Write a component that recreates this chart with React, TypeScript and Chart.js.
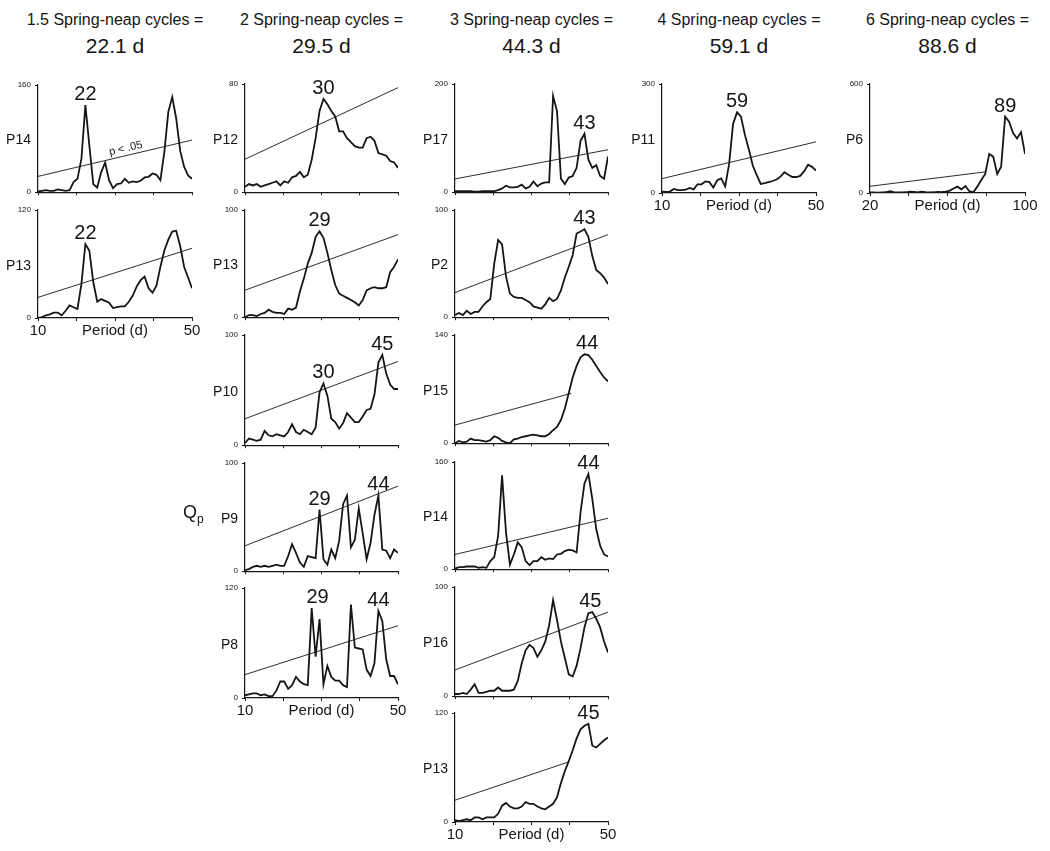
import React, { useEffect, useRef } from "react";
import { Chart, registerables } from "chart.js";

Chart.register(...registerables);

const FONT = '"Liberation Sans", Arial, Helvetica, sans-serif';
const INK = "#151515";

// ---- Text ----
const cycleLabels = [
  "1.5 Spring-neap cycles =",
  "2 Spring-neap cycles =",
  "3 Spring-neap cycles =",
  "4 Spring-neap cycles =",
  "6 Spring-neap cycles =",
];
const periodLabels = ["22.1 d", "29.5 d", "44.3 d", "59.1 d", "88.6 d"];
const xAxisTitle = "Period (d)";
const sigLabel = "p < .05";

// ---- Period ranges (x axis) ----
const rangeShort = [10, 50];
const rangeLong = [20, 100];

// ---- Series values (Qp), sampled evenly across the period range ----
const c1P14 = [1, 2, 3, 2, 2, 4, 3, 2, 3, 15, 20, 50, 130, 70, 12, 7, 30, 44, 18, 6, 12, 13, 20, 14, 16, 15, 17, 22, 23, 28, 26, 18, 60, 120, 142, 110, 62, 38, 25, 20];
const c1P13 = [0, 1, 3, 4, 6, 6, 3, 8, 14, 12, 10, 38, 82, 75, 40, 18, 21, 19, 17, 11, 12, 13, 13, 18, 25, 35, 42, 46, 33, 28, 36, 57, 75, 87, 96, 97, 80, 57, 45, 33];
const c2P12 = [4, 6, 5, 6, 4, 5, 6, 7, 8, 5, 8, 7, 11, 12, 15, 11, 13, 24, 40, 60, 69, 65, 60, 56, 45, 45, 40, 37, 34, 33, 33, 40, 41, 38, 29, 28, 27, 23, 22, 18];
const c2P13 = [0, 2, 2, 1, 3, 4, 7, 5, 4, 4, 3, 8, 7, 9, 24, 36, 50, 60, 75, 80, 74, 60, 44, 30, 22, 20, 18, 16, 14, 11, 16, 25, 27, 28, 27, 27, 28, 42, 47, 54];
const c2P10 = [2, 6, 5, 4, 5, 13, 9, 8, 10, 9, 8, 12, 19, 12, 10, 14, 12, 10, 16, 48, 56, 45, 24, 21, 15, 20, 29, 25, 21, 21, 26, 32, 33, 46, 75, 82, 65, 55, 51, 51];
const c2P9 = [1, 2, 4, 5, 4, 5, 4, 5, 6, 5, 5, 14, 25, 17, 8, 4, 14, 13, 12, 57, 11, 6, 20, 12, 28, 62, 70, 22, 29, 58, 35, 11, 26, 52, 70, 20, 19, 12, 20, 17];
const c2P8 = [3, 4, 5, 5, 3, 4, 2, 2, 8, 18, 18, 10, 14, 23, 18, 15, 14, 98, 45, 86, 15, 35, 23, 19, 19, 14, 12, 102, 55, 54, 53, 31, 24, 38, 95, 84, 42, 24, 24, 15];
const c3P17 = [2, 2, 2, 2, 2, 1, 1, 2, 2, 2, 2, 4, 7, 12, 9, 9, 10, 14, 7, 10, 20, 11, 16, 18, 18, 178, 150, 25, 15, 27, 30, 45, 95, 108, 60, 45, 50, 30, 25, 66];
const c3P2 = [2, 4, 2, 6, 3, 5, 5, 10, 14, 17, 50, 72, 68, 38, 22, 19, 18, 18, 16, 14, 10, 9, 8, 12, 18, 15, 17, 25, 37, 47, 58, 78, 80, 82, 75, 57, 44, 41, 37, 31];
const c3P15 = [0, 3, 1, 2, 6, 4, 4, 3, 2, 4, 9, 7, 3, 1, 0, 5, 6, 8, 9, 10, 11, 10, 9, 9, 12, 17, 21, 30, 45, 65, 85, 100, 111, 115, 114, 108, 100, 92, 85, 80];
const c3P14 = [1, 3, 3, 4, 4, 4, 2, 3, 2, 12, 18, 50, 140, 55, 7, 22, 40, 33, 12, 6, 12, 12, 18, 14, 16, 15, 22, 23, 27, 29, 28, 25, 85, 128, 142, 105, 60, 35, 22, 19];
const c3P16 = [2, 2, 3, 2, 6, 11, 3, 3, 4, 5, 5, 8, 5, 5, 5, 6, 14, 30, 42, 47, 44, 36, 42, 50, 65, 88, 70, 50, 35, 20, 18, 28, 44, 63, 76, 77, 71, 63, 50, 40];
const c3P13 = [2, 1, 2, 3, 2, 5, 5, 3, 5, 5, 5, 9, 18, 21, 17, 15, 15, 17, 22, 20, 20, 17, 15, 14, 17, 20, 27, 43, 56, 67, 79, 92, 102, 106, 108, 84, 82, 86, 90, 93];
const c4P11 = [4, 3, 4, 11, 8, 8, 9, 14, 10, 24, 24, 32, 30, 15, 35, 40, 18, 80, 190, 222, 210, 160, 120, 75, 49, 25, 27, 30, 33, 37, 45, 57, 50, 44, 44, 47, 60, 78, 72, 62];
const c5P6 = [3, 3, 2, 3, 4, 10, 5, 3, 3, 4, 8, 6, 4, 8, 5, 3, 4, 6, 5, 8, 12, 25, 35, 20, 38, 10, 4, 35, 72, 105, 215, 200, 105, 145, 420, 392, 330, 300, 335, 215];

// ---- Significance (p < .05) lines: [value at start, value at end, fraction of range where it ends] ----
const thrC1P14 = [23.6, 77.8];
const thrC1P13 = [22.9, 77.5];
const thrC2P12 = [24.4, 77.3];
const thrC2P13 = [25.2, 77];
const thrC2P10 = [24, 76];
const thrC2P9 = [23.5, 78.6];
const thrC2P8 = [25.5, 78.9];
const thrC3P17 = [24.5, 78.5];
const thrC3P2 = [23, 77];
const thrC3P15 = [23.5, 64.5, 0.76];
const thrC3P14 = [22, 76];
const thrC3P16 = [24, 77];
const thrC3P13 = [24, 66, 0.74];
const thrC4P11 = [39.6, 140.8];
const thrC5P6 = [37, 116, 0.742];

// ---- Layout ----
const colAxis = [38, 245, 455, 662, 870];
const colRight = [192, 398, 608, 816, 1025];

type Peak = { text: string; idx: number; xIdx?: number };
type PanelSpec = {
  key: string;
  name: string;
  values: number[];
  yMax: number;
  range: number[];
  thr: number[];
  peaks: Peak[];
  col: number;
  top: number;
  bottom: number;
  xLabels: boolean;
  sig?: boolean;
};

const panels: PanelSpec[] = [
  { key: "c1a", name: "P14", values: c1P14, yMax: 160, range: rangeShort, thr: thrC1P14, peaks: [{ text: "22", idx: 12 }], col: 0, top: 85, bottom: 193, xLabels: false, sig: true },
  { key: "c1b", name: "P13", values: c1P13, yMax: 120, range: rangeShort, thr: thrC1P13, peaks: [{ text: "22", idx: 12 }], col: 0, top: 210, bottom: 318, xLabels: true },

  { key: "c2a", name: "P12", values: c2P12, yMax: 80, range: rangeShort, thr: thrC2P12, peaks: [{ text: "30", idx: 20 }], col: 1, top: 84, bottom: 193, xLabels: false },
  { key: "c2b", name: "P13", values: c2P13, yMax: 100, range: rangeShort, thr: thrC2P13, peaks: [{ text: "29", idx: 19 }], col: 1, top: 210, bottom: 318, xLabels: false },
  { key: "c2c", name: "P10", values: c2P10, yMax: 100, range: rangeShort, thr: thrC2P10, peaks: [{ text: "30", idx: 20 }, { text: "45", idx: 35 }], col: 1, top: 335, bottom: 446, xLabels: false },
  { key: "c2d", name: "P9", values: c2P9, yMax: 100, range: rangeShort, thr: thrC2P9, peaks: [{ text: "29", idx: 19 }, { text: "44", idx: 34 }], col: 1, top: 463, bottom: 572, xLabels: false },
  { key: "c2e", name: "P8", values: c2P8, yMax: 120, range: rangeShort, thr: thrC2P8, peaks: [{ text: "29", idx: 17, xIdx: 18.5 }, { text: "44", idx: 34 }], col: 1, top: 588, bottom: 698, xLabels: true },

  { key: "c3a", name: "P17", values: c3P17, yMax: 200, range: rangeShort, thr: thrC3P17, peaks: [{ text: "43", idx: 33 }], col: 2, top: 84, bottom: 193, xLabels: false },
  { key: "c3b", name: "P2", values: c3P2, yMax: 100, range: rangeShort, thr: thrC3P2, peaks: [{ text: "43", idx: 33 }], col: 2, top: 210, bottom: 318, xLabels: false },
  { key: "c3c", name: "P15", values: c3P15, yMax: 140, range: rangeShort, thr: thrC3P15, peaks: [{ text: "44", idx: 33, xIdx: 33.7 }], col: 2, top: 335, bottom: 444, xLabels: false },
  { key: "c3d", name: "P14", values: c3P14, yMax: 160, range: rangeShort, thr: thrC3P14, peaks: [{ text: "44", idx: 34 }], col: 2, top: 462, bottom: 570, xLabels: false },
  { key: "c3e", name: "P16", values: c3P16, yMax: 100, range: rangeShort, thr: thrC3P16, peaks: [{ text: "45", idx: 35, xIdx: 34.5 }], col: 2, top: 587, bottom: 697, xLabels: false },
  { key: "c3f", name: "P13", values: c3P13, yMax: 120, range: rangeShort, thr: thrC3P13, peaks: [{ text: "45", idx: 34 }], col: 2, top: 713, bottom: 822, xLabels: true },

  { key: "c4a", name: "P11", values: c4P11, yMax: 300, range: rangeShort, thr: thrC4P11, peaks: [{ text: "59", idx: 19 }], col: 3, top: 84, bottom: 193, xLabels: true },
  { key: "c5a", name: "P6", values: c5P6, yMax: 600, range: rangeLong, thr: thrC5P6, peaks: [{ text: "89", idx: 34 }], col: 4, top: 84, bottom: 193, xLabels: true },
];

const LEFT = 50;
const TOP = 16;
const RIGHT = 18;

function Panel({ p }: { p: PanelSpec }) {
  const ref = useRef<HTMLCanvasElement | null>(null);
  const ax = colAxis[p.col];
  const right = colRight[p.col];
  const BOT = p.xLabels ? 28 : 8;
  const w = LEFT + (right - ax) + RIGHT;
  const h = TOP + (p.bottom - p.top) + BOT;

  useEffect(() => {
    if (!ref.current) return;
    const [xMin, xMax] = p.range;
    const n = p.values.length;
    const xAt = (i: number) => xMin + ((xMax - xMin) * i) / (n - 1);
    const line = p.values.map((v, i) => ({ x: xAt(i), y: v }));
    const endFrac = p.thr[2] ?? 1;
    const thrPts = [
      { x: xMin, y: p.thr[0] },
      { x: xMin + (xMax - xMin) * endFrac, y: p.thr[1] },
    ];

    const textPlugin = {
      id: "panelText",
      afterDatasetsDraw(chart: any) {
        const ctx = chart.ctx as CanvasRenderingContext2D;
        const ca = chart.chartArea;
        const xs = chart.scales.x;
        const ys = chart.scales.y;
        ctx.save();
        ctx.fillStyle = INK;
        // panel name
        ctx.font = `14px ${FONT}`;
        ctx.textAlign = "right";
        ctx.textBaseline = "middle";
        ctx.fillText(p.name, ca.left - 7, (ca.top + ca.bottom) / 2 + 2);
        // peak labels
        ctx.font = `20px ${FONT}`;
        ctx.textAlign = "center";
        ctx.textBaseline = "alphabetic";
        for (const pk of p.peaks) {
          const x = xs.getPixelForValue(xAt(pk.xIdx ?? pk.idx));
          const y = ys.getPixelForValue(p.values[pk.idx]) - 5;
          ctx.fillText(pk.text, x, y);
        }
        // x-axis title
        if (p.xLabels) {
          ctx.font = `15px ${FONT}`;
          ctx.textBaseline = "middle";
          ctx.fillText(xAxisTitle, (ca.left + ca.right) / 2, ca.bottom + 13);
        }
        // significance label
        if (p.sig) {
          const x0 = xs.getPixelForValue(thrPts[0].x);
          const y0 = ys.getPixelForValue(thrPts[0].y);
          const x1 = xs.getPixelForValue(thrPts[1].x);
          const y1 = ys.getPixelForValue(thrPts[1].y);
          const f = 0.58;
          const px = x0 + (x1 - x0) * f;
          const py = y0 + (y1 - y0) * f;
          ctx.translate(px, py);
          ctx.rotate(Math.atan2(y1 - y0, x1 - x0));
          ctx.font = `11px ${FONT}`;
          ctx.textAlign = "center";
          ctx.textBaseline = "alphabetic";
          ctx.fillText(sigLabel, 0, -4);
        }
        ctx.restore();
      },
    };

    const chart = new Chart(ref.current, {
      type: "line",
      data: {
        datasets: [
          { data: line, borderColor: INK, borderWidth: 1.8, pointRadius: 0, tension: 0, fill: false } as any,
          { data: thrPts, borderColor: INK, borderWidth: 0.9, pointRadius: 0, tension: 0, fill: false } as any,
        ],
      },
      options: {
        responsive: false,
        animation: false,
        devicePixelRatio: 1,
        events: [],
        layout: { padding: { top: TOP, right: RIGHT, left: 0, bottom: 0 } },
        plugins: { legend: { display: false }, tooltip: { enabled: false }, title: { display: false } },
        scales: {
          x: {
            type: "linear",
            min: xMin,
            max: xMax,
            afterBuildTicks: (s: any) => {
              const step = (xMax - xMin) / 4;
              s.ticks = [0, 1, 2, 3, 4].map((k) => ({ value: xMin + step * k }));
            },
            afterFit: (s: any) => {
              s.height = BOT;
            },
            ticks: {
              display: p.xLabels,
              autoSkip: false,
              maxRotation: 0,
              padding: 1,
              color: INK,
              font: { size: 15, family: FONT },
              callback: (v: any) => (v === xMin || v === xMax ? String(v) : ""),
            },
            grid: { drawOnChartArea: false, drawTicks: true, tickLength: 3, color: INK, lineWidth: 1 },
            border: { display: true, color: INK, width: 1.2 },
          },
          y: {
            min: 0,
            max: p.yMax,
            afterBuildTicks: (s: any) => {
              s.ticks = [{ value: 0 }, { value: p.yMax }];
            },
            afterFit: (s: any) => {
              s.width = LEFT;
            },
            ticks: { color: INK, padding: 4, font: { size: 8, family: FONT } },
            grid: { drawOnChartArea: false, drawTicks: true, tickLength: 3, color: INK, lineWidth: 1 },
            border: { display: true, color: INK, width: 1.2 },
          },
        },
      } as any,
      plugins: [textPlugin as any],
    });
    return () => chart.destroy();
  }, []);

  return (
    <canvas
      ref={ref}
      width={w}
      height={h}
      style={{ position: "absolute", left: ax - LEFT, top: p.top - TOP, width: w, height: h }}
    />
  );
}

export default function App() {
  return (
    <div
      style={{
        position: "absolute",
        left: 0,
        top: 0,
        width: 1050,
        height: 851,
        background: "#ffffff",
        fontFamily: FONT,
        color: INK,
        overflow: "hidden",
      }}
    >
      {cycleLabels.map((t, i) => {
        const cx = (colAxis[i] + colRight[i]) / 2;
        return (
          <React.Fragment key={"h" + i}>
            <div style={{ position: "absolute", left: cx - 130, width: 260, top: 12, textAlign: "center", fontSize: 16, lineHeight: "16px", whiteSpace: "nowrap" }}>{t}</div>
            <div style={{ position: "absolute", left: cx - 130, width: 260, top: 35, textAlign: "center", fontSize: 21, lineHeight: "21px", whiteSpace: "nowrap" }}>{periodLabels[i]}</div>
          </React.Fragment>
        );
      })}
      {panels.map((p) => (
        <Panel key={p.key} p={p} />
      ))}
      <div style={{ position: "absolute", left: 183, top: 503, fontSize: 18, lineHeight: "18px", whiteSpace: "nowrap" }}>
        Q<span style={{ fontSize: 12, position: "relative", top: 5 }}>p</span>
      </div>
    </div>
  );
}
